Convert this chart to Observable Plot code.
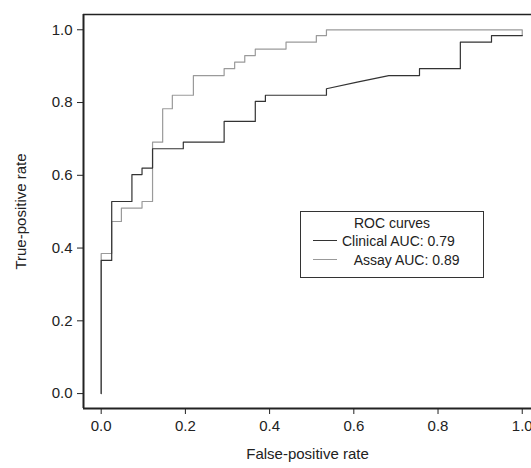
<!DOCTYPE html>
<html>
<head>
<meta charset="utf-8">
<script src="https://cdn.jsdelivr.net/npm/d3@7"></script>
<script src="https://cdn.jsdelivr.net/npm/@observablehq/plot@0.6"></script>
<style>
  body { margin: 0; background: #fff; font-family: "Liberation Sans", Arial, sans-serif; }
  #wrap { position: relative; width: 531px; height: 468px; }
  #legend { position: absolute; left: 300px; top: 211px; width: 184px; height: 67px;
    border: 1px solid #333; box-sizing: border-box; font-size: 14px; color: #222; }
  #legend .t { text-align: center; margin-top: 3px; }
  #legend .row { display: flex; align-items: center; height: 19px; }
  #legend .sw { width: 24px; height: 0; margin: 0 5px 0 12px; }
</style>
</head>
<body>
<div id="wrap">
  <div id="chart"></div>
  <div id="legend">
    <div class="t">ROC curves</div>
    <div class="row"><span class="sw" style="border-top:1.2px solid #333"></span>Clinical AUC: 0.79</div>
    <div class="row"><span class="sw" style="border-top:1.2px solid #999"></span>&nbsp;&nbsp;&nbsp;Assay AUC: 0.89</div>
  </div>
</div>
<script>
// curve vertices (false-positive rate, true-positive rate)
const clinicalFpr = [0, 0, 0.025, 0.025, 0.073, 0.073, 0.097, 0.097, 0.122, 0.122, 0.195, 0.195, 0.292, 0.292, 0.366, 0.366, 0.39, 0.39, 0.535, 0.535, 0.608, 0.683, 0.756, 0.756, 0.853, 0.853, 0.927, 0.927, 1.0];
const clinicalTpr = [0, 0.366, 0.366, 0.528, 0.528, 0.602, 0.602, 0.62, 0.62, 0.673, 0.673, 0.691, 0.691, 0.748, 0.748, 0.803, 0.803, 0.82, 0.82, 0.838, 0.856, 0.874, 0.874, 0.893, 0.893, 0.966, 0.966, 0.984, 0.984];
const assayFpr = [0, 0, 0.025, 0.025, 0.048, 0.048, 0.097, 0.097, 0.122, 0.122, 0.146, 0.146, 0.169, 0.169, 0.219, 0.219, 0.292, 0.292, 0.317, 0.317, 0.341, 0.341, 0.366, 0.366, 0.439, 0.439, 0.511, 0.511, 0.535, 0.535, 1.0, 1.0];
const assayTpr = [0, 0.385, 0.385, 0.473, 0.473, 0.51, 0.51, 0.528, 0.528, 0.691, 0.691, 0.783, 0.783, 0.82, 0.82, 0.874, 0.874, 0.893, 0.893, 0.911, 0.911, 0.929, 0.929, 0.947, 0.947, 0.966, 0.966, 0.984, 0.984, 1.0, 1.0, 0.984];
const ticks = [0, 0.2, 0.4, 0.6, 0.8, 1.0];

const clinical = clinicalFpr.map((x, i) => ({ x, y: clinicalTpr[i] }));
const assay = assayFpr.map((x, i) => ({ x, y: assayTpr[i] }));

const plot = Plot.plot({
  width: 531,
  height: 468,
  marginLeft: 83,
  marginRight: 0,
  marginTop: 14,
  marginBottom: 60,
  style: { fontFamily: "Liberation Sans, Arial, sans-serif", fontSize: "15px", color: "#222" },
  x: { domain: [-0.042, 1.022] },
  y: { domain: [-0.041, 1.042] },
  marks: [
    Plot.axisX({ ticks, tickFormat: d3.format(".1f"), tickSize: 6, tickPadding: 6, fontSize: 15, label: "False-positive rate", labelAnchor: "center", labelArrow: "none", labelOffset: 50 }),
    Plot.axisY({ ticks, tickFormat: d3.format(".1f"), tickSize: 6, tickPadding: 5, fontSize: 15, label: "True-positive rate", labelAnchor: "center", labelArrow: "none", labelOffset: 68 }),
    Plot.ruleX([-0.042], { stroke: "#222", strokeWidth: 2 }),
    Plot.ruleY([-0.041], { stroke: "#222", strokeWidth: 2 }),
    Plot.ruleY([1.042], { stroke: "#222", strokeWidth: 1.5 }),
    Plot.line(assay, { x: "x", y: "y", stroke: "#9a9a9a", strokeWidth: 1.2 }),
    Plot.line(clinical, { x: "x", y: "y", stroke: "#333", strokeWidth: 1.2 })
  ]
});
document.getElementById("chart").append(plot);
</script>
</body>
</html>
